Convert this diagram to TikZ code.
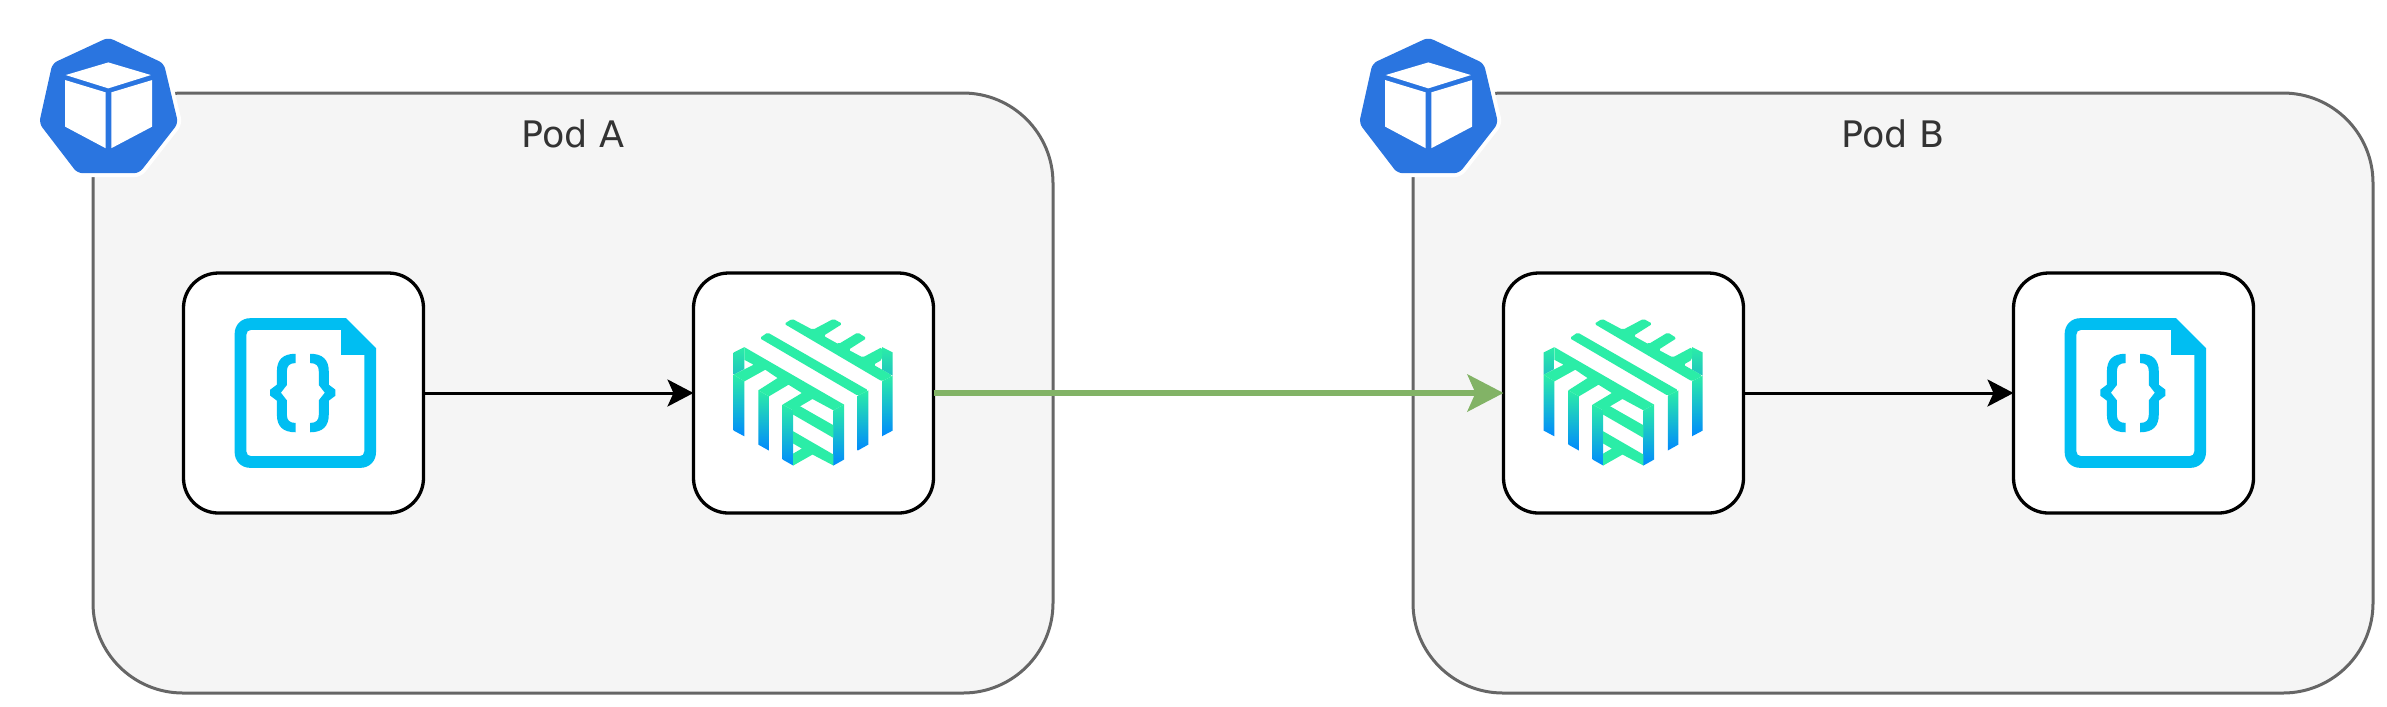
\documentclass[tikz,border=0pt]{standalone}
\usepackage{fontspec}
\setmainfont{DejaVu Sans}
\usepackage{tikz}
\usetikzlibrary{arrows.meta, positioning}
\definecolor{podfill}{HTML}{F5F5F5}
\definecolor{podline}{HTML}{666666}
\definecolor{podtext}{HTML}{333333}
\definecolor{podblue}{HTML}{2A75E0}
\definecolor{filecyan}{HTML}{00BEF2}
\definecolor{linkgreen}{HTML}{2BEDA7}
\definecolor{linkteal}{HTML}{20C4C0}
\definecolor{linkblue}{HTML}{018AFD}
\definecolor{meshgreen}{HTML}{82B366}

\begin{document}
\begin{tikzpicture}[
    every node/.style={font=\fontsize{10.4}{12}\selectfont},
    % Pod frame
    podbox/.style={
      rectangle, draw=podline, fill=podfill, line width=0.03cm,
      rounded corners=0.9cm, outer sep=0pt,
      minimum width=9.6cm, minimum height=6cm
    },
    % Pod caption
    podlabel/.style={text=podtext, inner sep=0pt},
    % White icon box
    iconbox/.style={
      rectangle, draw=black, fill=white, line width=0.033cm,
      rounded corners=0.35cm, outer sep=0pt,
      minimum width=2.4cm, minimum height=2.4cm
    },
    % Arrows
    flowarr/.style={-{Stealth[length=2.6mm, width=2.7mm, inset=0.6mm]}, line width=0.03cm, black},
    mesharr/.style={-{Stealth[length=3.6mm, width=3.7mm, inset=0.8mm]}, line width=0.058cm, meshgreen},
    % Pod badge, in the units of a 3x crop
    podicon/.pic={
      \begin{scope}[x=0.003333cm, y=-0.003333cm, shift={(-219,-219)}]
        \fill[podblue, rounded corners=1.5pt, preaction={draw=white, line width=0.08cm}]
          (265,52) -- (432,130) -- (475,310) -- (358,460) -- (172,460) -- (57,310) -- (97,130) -- cycle;
        \fill[white] (265,127) -- (393,165) -- (265,205) -- (137,165) -- cycle;
        \fill[white] (135,180) -- (257,217) -- (257,385) -- (135,320) -- cycle;
        \fill[white] (274,217) -- (397,180) -- (397,320) -- (274,385) -- cycle;
      \end{scope}
    },
    % Config file icon
    fileicon/.pic={
      \begin{scope}[x=0.003333cm, y=-0.003333cm, shift={(-402,-400)}]
        \fill[filecyan, even odd rule]
          (530,175) -- (620,265) -- (620,578) .. controls (620,605) and (600,625) .. (573,625)
            -- (242,625) .. controls (215,625) and (195,605) .. (195,578)
            -- (195,222) .. controls (195,195) and (215,175) .. (242,175) -- cycle
          (515,210) -- (515,285) -- (585,285) -- (585,575) .. controls (585,584) and (579,590) .. (570,590)
            -- (245,590) .. controls (236,590) and (230,584) .. (230,575)
            -- (230,225) .. controls (230,216) and (236,210) .. (245,210) -- cycle;
        \fill[filecyan] (378,282) .. controls (340,282) and (322,300) .. (322,335) -- (322,375)
          -- (302,390) -- (302,408) -- (322,423) -- (322,465)
          .. controls (322,500) and (340,518) .. (378,518) -- (378,490)
          .. controls (360,490) and (352,482) .. (352,465) -- (352,422) -- (334,399) -- (352,376)
          -- (352,335) .. controls (352,318) and (360,310) .. (378,310) -- cycle;
        \fill[filecyan] (422,282) .. controls (460,282) and (478,300) .. (478,335) -- (478,375)
          -- (498,390) -- (498,408) -- (478,423) -- (478,465)
          .. controls (478,500) and (460,518) .. (422,518) -- (422,490)
          .. controls (440,490) and (448,482) .. (448,465) -- (448,422) -- (466,399) -- (448,376)
          -- (448,335) .. controls (448,318) and (440,310) .. (422,310) -- cycle;
      \end{scope}
    },
    % Proxy icon
    proxyicon/.pic={
      \begin{scope}[x=0.003333cm, y=-0.003333cm, shift={(-400,-400)}]
        % upright bars
        \shade[top color=linkgreen, bottom color=linkteal] (192,262) -- (160,278) -- (160,345) -- (192,328) -- cycle;
        \shade[top color=linkgreen, bottom color=linkteal] (606,262) -- (638,278) -- (638,348) -- (606,330) -- cycle;
        \shade[top color=linkgreen, bottom color=linkblue] (160,345) -- (192,365) -- (192,530) -- (160,513) -- cycle;
        \shade[top color=linkgreen, bottom color=linkblue] (234,392) -- (266,410) -- (266,573) -- (234,555) -- cycle;
        \shade[top color=linkgreen, bottom color=linkblue] (307,435) -- (339,452) -- (339,618) -- (307,600) -- cycle;
        \shade[top color=linkgreen, bottom color=linkblue] (460,452) -- (492,435) -- (492,600) -- (460,618) -- cycle;
        \shade[top color=linkgreen, bottom color=linkblue] (533,408) -- (565,392) -- (565,555) -- (533,573) -- cycle;
        \shade[top color=linkgreen, bottom color=linkblue] (606,365) -- (638,348) -- (638,513) -- (606,530) -- cycle;
        % slanted bars
        \fill[linkgreen, rounded corners=0.5pt] (312,192) -- (336,177) -- (398,210) -- (460,177) -- (487,192) -- (430,228) -- (475,253)
          -- (533,218) -- (560,235) -- (505,270) -- (548,293) -- (606,262) -- (606,300) -- (580,315)
          -- (638,348) -- (606,365) -- cycle;
        \fill[linkgreen, rounded corners=0.5pt] (238,235) -- (262,218) -- (565,392) -- (533,408) -- cycle;
        \fill[linkgreen] (192,262) -- (492,435) -- (460,452) -- (397,418) -- (339,452) -- (307,435) -- (365,400)
          -- (325,375) -- (266,410) -- (234,392) -- (292,355) -- (255,330) -- (192,365) -- (160,345)
          -- (220,315) -- (192,300) -- cycle;
        \fill[linkgreen] (360,440) -- (460,497) -- (460,535) -- (339,465) -- (339,437) -- cycle;
        \fill[linkgreen] (339,515) -- (460,585) -- (460,618) -- (397,585) -- (339,618) -- (339,582)
          -- (365,567) -- (339,552) -- cycle;
      \end{scope}
    }
  ]
  \useasboundingbox (0,0) rectangle (23.87,-7.06);

  % ============ Pods ============
  \node[podbox] (poda) at (5.73,-3.93) {};
  \node[podbox, right=3.6cm of poda] (podb) {};
  \node[podlabel, below=0.265cm of poda.north] (podalbl) {Pod A};
  \node[podlabel, below=0.265cm of podb.north] (podblbl) {Pod B};

  % ============ Badges ============
  \pic at (poda.north west) {podicon};
  \pic at (podb.north west) {podicon};

  % ============ Boxes ============
  \node[iconbox, right=0.905cm of poda.west] (filea) {};
  \node[iconbox, right=2.7cm of filea] (proxya) {};
  \node[iconbox, right=5.7cm of proxya] (proxyb) {};
  \node[iconbox, right=2.7cm of proxyb] (fileb) {};

  \pic at (filea) {fileicon};
  \pic at (proxya) {proxyicon};
  \pic at (proxyb) {proxyicon};
  \pic at (fileb) {fileicon};

  % ============ Arrows ============
  \draw[flowarr] (filea) -- (proxya);
  \draw[flowarr] (proxyb) -- (fileb);
  \draw[mesharr] (proxya) -- (proxyb);

\end{tikzpicture}
\end{document}
